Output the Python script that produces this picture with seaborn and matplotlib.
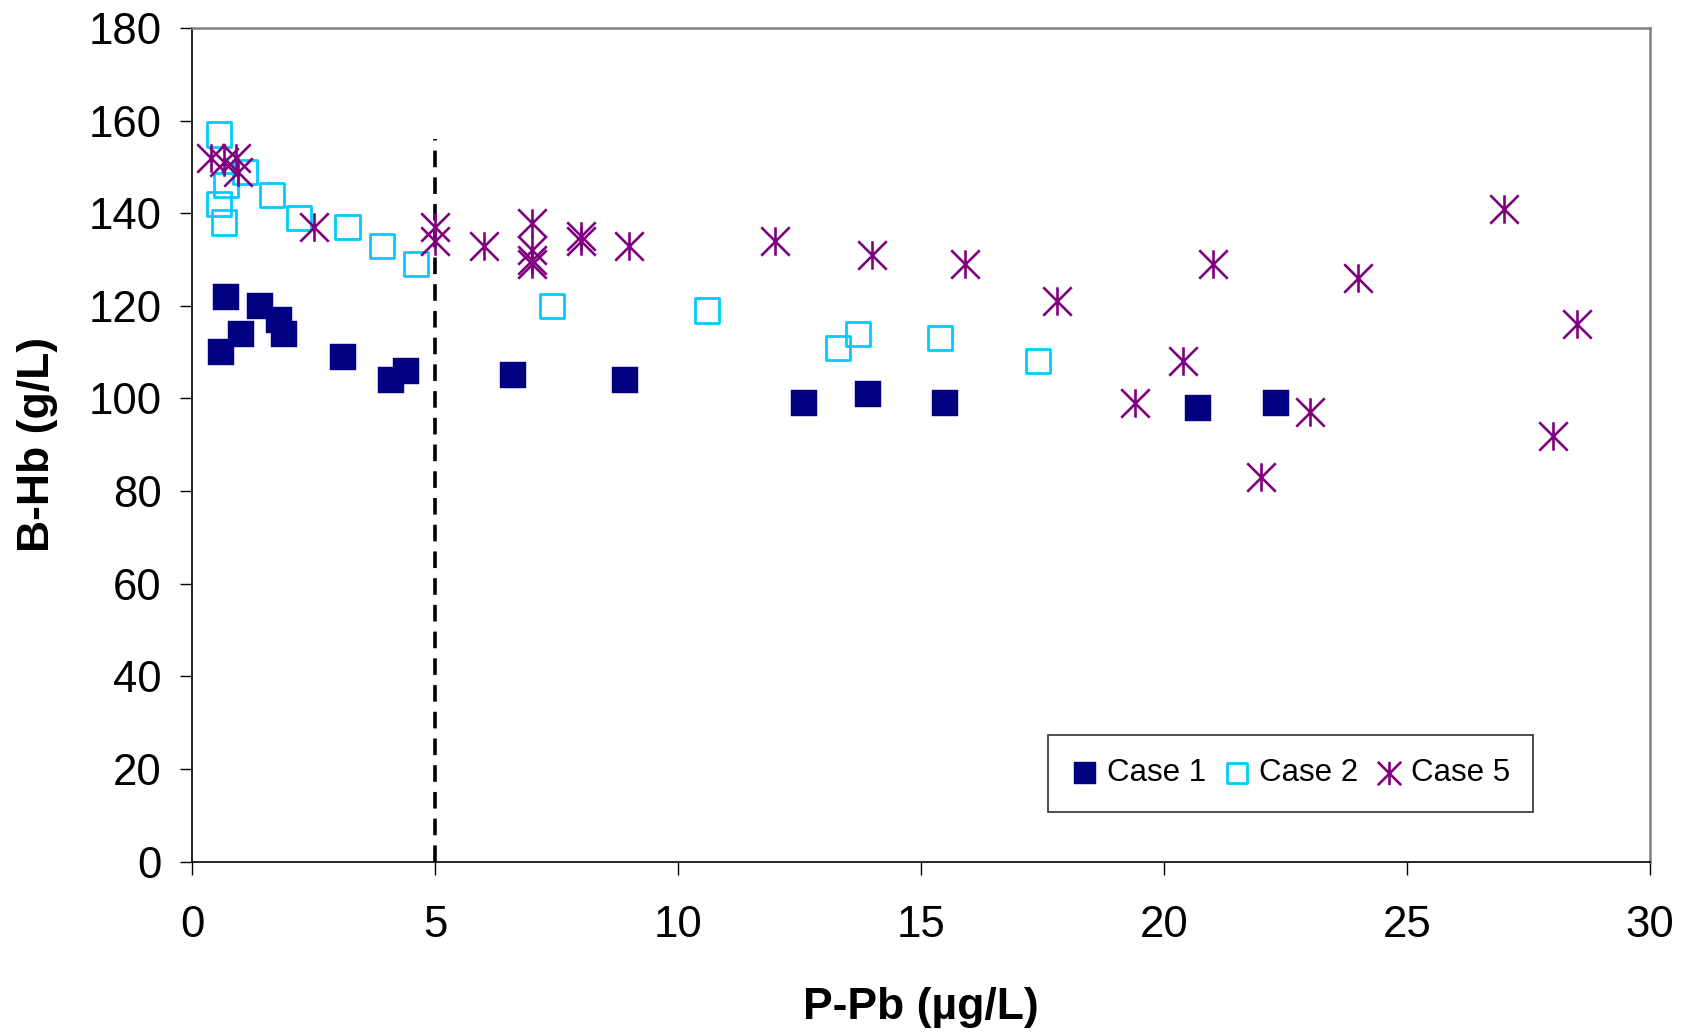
import numpy as np
import pandas as pd
import matplotlib
matplotlib.use("Agg")
import matplotlib.pyplot as plt
from matplotlib.path import Path
import seaborn as sns

# ---- data ----
case1_x = [0.6, 0.7, 1.0, 1.4, 1.8, 1.9, 3.1, 4.1, 4.4, 6.6, 8.9, 12.6, 13.9, 15.5, 20.7, 22.3]
case1_y = [110, 122, 114, 120, 117, 114, 109, 104, 106, 105, 104, 99, 101, 99, 98, 99]

case2_x = [0.55, 1.1, 0.7, 0.55, 0.65, 1.65, 2.2, 3.2, 3.9, 4.6, 7.4, 10.6, 13.3, 13.7, 15.4, 17.4]
case2_y = [157, 149, 146, 142, 138, 144, 139, 137, 133, 129, 120, 119, 111, 114, 113, 108]

case5_x = [0.4, 0.65, 0.9, 0.95, 2.5, 5.0, 5.0, 6.0, 7.0, 7.0, 7.0, 7.0, 8.0, 8.0, 9.0,
           12.0, 14.0, 15.9, 17.8, 19.4, 20.4, 21.0, 22.0, 23.0, 24.0, 27.0, 28.0, 28.5]
case5_y = [152, 151, 152, 149, 137, 137, 134, 133, 138, 132, 130, 129, 135, 134, 133,
           134, 131, 129, 121, 99, 108, 129, 83, 97, 126, 141, 92, 116]

series_labels = ["Case 1", "Case 2", "Case 5"]
threshold_x = 5
threshold_top = 156

x_ticks = [0, 5, 10, 15, 20, 25, 30]
y_ticks = [0, 20, 40, 60, 80, 100, 120, 140, 160, 180]
x_label = "P-Pb (µg/L)"
y_label = "B-Hb (g/L)"

# ---- style ----
sns.set_style("white")
plt.rcParams["font.family"] = ["Liberation Sans", "DejaVu Sans"]
for key in ["text.color", "axes.labelcolor", "xtick.color", "ytick.color"]:
    plt.rcParams[key] = "black"

c1_color = "#000080"
c2_color = "#00CCFF"
c5_color = "#800080"

star = Path(
    [(0, -1), (0, 1), (-1, -1), (1, 1), (-1, 1), (1, -1)],
    [Path.MOVETO, Path.LINETO, Path.MOVETO, Path.LINETO, Path.MOVETO, Path.LINETO],
)

fig = plt.figure(figsize=(16.86, 10.33), dpi=100)
ax = fig.add_axes([192 / 1686, 1 - 861.6 / 1033, 1458 / 1686, 833.6 / 1033])

df1 = pd.DataFrame({"x": case1_x, "y": case1_y})
df2 = pd.DataFrame({"x": case2_x, "y": case2_y})
df5 = pd.DataFrame({"x": case5_x, "y": case5_y})

sns.scatterplot(data=df1, x="x", y="y", ax=ax, marker="s", s=340, color=c1_color,
                edgecolor=c1_color, linewidth=0.3, label=series_labels[0], zorder=3)
sns.scatterplot(data=df2, x="x", y="y", ax=ax, marker="s", s=300, color=c2_color,
                linewidth=2.0, label=series_labels[1], zorder=4)
coll2 = ax.collections[-1]
coll2.set_facecolor("none")
coll2.set_edgecolor(c2_color)
sns.scatterplot(data=df5, x="x", y="y", ax=ax, marker=star, s=420, color=c5_color,
                edgecolor=c5_color, linewidth=1.9, label=series_labels[2], zorder=5)

ax.plot([threshold_x, threshold_x], [0, threshold_top], color="black",
        linestyle=(0, (4.6, 2.8)), linewidth=2.6, zorder=2)

ax.set_xlim(x_ticks[0], x_ticks[-1])
ax.set_ylim(y_ticks[0], y_ticks[-1])
ax.set_xticks(x_ticks)
ax.set_yticks(y_ticks)
ax.tick_params(axis="both", direction="out", length=9, width=1.0, color="black",
               labelsize=31.5, bottom=True, left=True)
ax.tick_params(axis="x", pad=22)
ax.tick_params(axis="y", pad=13)

for side in ["left", "bottom"]:
    ax.spines[side].set_color("black")
    ax.spines[side].set_linewidth(1.2)
for side in ["top", "right"]:
    ax.spines[side].set_color("#808080")
    ax.spines[side].set_linewidth(1.8)

ax.set_xlabel(x_label, fontsize=32, fontweight="bold")
ax.set_ylabel(y_label, fontsize=32, fontweight="bold")
ax.xaxis.set_label_coords(0.5, -0.15)
ax.yaxis.set_label_coords(-0.092, 0.5)

handles, labels = ax.get_legend_handles_labels()
leg = ax.legend(handles, labels, loc="lower left", bbox_to_anchor=(0.587, 0.06, 0.333, 0.105),
                mode="expand", ncol=3, fontsize=22.5, frameon=True, fancybox=False,
                edgecolor="#303030", framealpha=1, markerscale=0.82, handletextpad=0.25,
                handlelength=0.9, columnspacing=0.6, borderpad=0.75, borderaxespad=0)
leg.get_frame().set_linewidth(1.2)
leg.legend_handles[1].set_facecolor("none")
leg.legend_handles[1].set_edgecolor(c2_color)

fig.savefig("out.png", dpi=100, facecolor="white")
